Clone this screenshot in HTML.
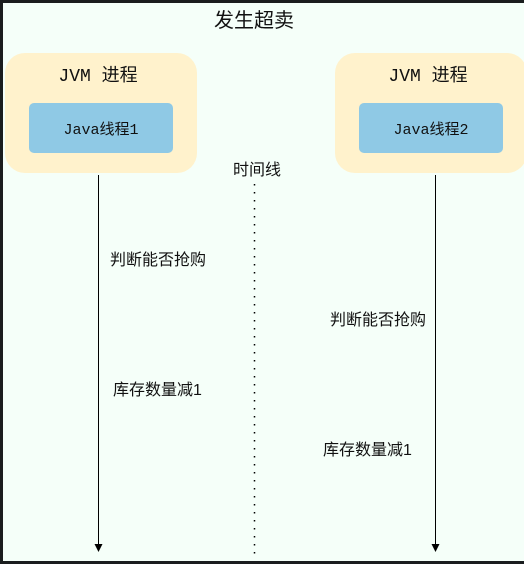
<!DOCTYPE html>
<html><head><meta charset="utf-8"><style>
body{margin:0;width:524px;height:564px;overflow:hidden;background:#1a1d1e;}
</style></head><body>
<svg width="524" height="564" xmlns="http://www.w3.org/2000/svg" style="position:absolute;left:0;top:0">
<rect x="3" y="3" width="521" height="558" fill="#f5fff9"/>
<g font-family="'Liberation Sans','Noto Sans CJK SC',sans-serif" fill="#111">
<text x="254" y="27" font-size="20" text-anchor="middle">发生超卖</text>
<rect x="5" y="53" width="192" height="120" rx="20" fill="#fff2cc"/>
<rect x="29" y="103" width="144" height="50" rx="5" fill="#8fc9e5"/>
<rect x="335" y="53" width="192" height="120" rx="20" fill="#fff2cc"/>
<rect x="359" y="103" width="144" height="50" rx="5" fill="#8fc9e5"/>
<text x="98" y="81" font-size="18" text-anchor="middle" font-family="'Liberation Mono','Noto Sans CJK SC',monospace">JVM 进程</text>
<text x="428" y="81" font-size="18" text-anchor="middle" font-family="'Liberation Mono','Noto Sans CJK SC',monospace">JVM 进程</text>
<text x="101" y="134" font-size="15" text-anchor="middle" font-family="'Liberation Mono','Noto Sans CJK SC',monospace">Java线程1</text>
<text x="431" y="134" font-size="15" text-anchor="middle" font-family="'Liberation Mono','Noto Sans CJK SC',monospace">Java线程2</text>
<text x="257" y="175" font-size="16" text-anchor="middle">时间线</text>
<text x="110" y="265" font-size="16">判断能否抢购</text>
<text x="330" y="325" font-size="16">判断能否抢购</text>
<text x="113" y="395" font-size="16">库存数量减1</text>
<text x="323" y="455" font-size="16">库存数量减1</text>
</g>
<line x1="98.5" y1="175" x2="98.5" y2="547" stroke="#000" stroke-width="1"/>
<path d="M94.5 544 L102.5 544 L98.5 552 Z" fill="#000"/>
<line x1="435.5" y1="175" x2="435.5" y2="547" stroke="#000" stroke-width="1"/>
<path d="M431.5 544 L439.5 544 L435.5 552 Z" fill="#000"/>
<line x1="254.5" y1="184" x2="254.5" y2="556" stroke="#000" stroke-width="1.5" stroke-dasharray="1.5 6.5"/>
</svg>
</body></html>
